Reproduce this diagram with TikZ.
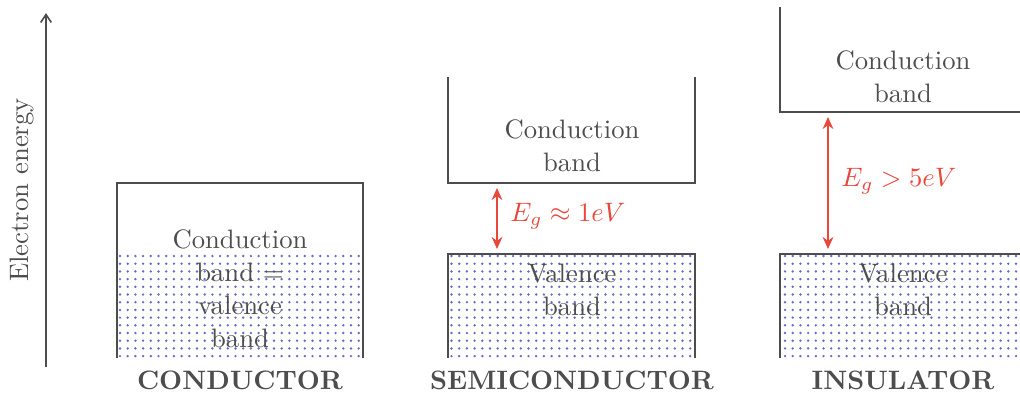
\documentclass[tikz,border=0pt]{standalone}
\usetikzlibrary{arrows.meta}
\definecolor{txt}{HTML}{4D4D4D}
\definecolor{gapred}{HTML}{E8473A}
\definecolor{dotblue}{HTML}{6A6AC8}
\newcommand{\dotgrid}[3]{%
  \foreach \xx in {#1,#2,...,#3}{%
    \foreach \yy in {256,263.7,...,357}{%
      \fill[dotblue] (\xx,\yy) circle[radius=1.35];}}}
\begin{document}
\begin{tikzpicture}[x=0.375pt,y=-0.375pt,
  band/.style={draw=txt,line width=0.8pt},
  lbl/.style={text=txt,align=center,font=\fontsize{10}{12.4}\selectfont},
  title/.style={text=txt,font=\bfseries},
  gap/.style={draw=gapred,line width=0.8pt,{Stealth[length=4.5pt,width=4pt]}-{Stealth[length=4.5pt,width=4pt]}},
  gaplbl/.style={text=gapred,anchor=west}]
\useasboundingbox (0,0) rectangle (1020,394);

% energy axis
\coordinate (ax0) at (46,367);
\coordinate (ax1) at (46,13);
\draw[txt,line width=0.6pt,-{Straight Barb[length=3pt,width=4pt]}] (ax0) -- (ax1);
\node[lbl,rotate=90] (axl) at (22,190) {Electron energy};

% conductor
\dotgrid{120}{127.7}{362}
\draw[band] (117,358) -- (117,183) -- (363,183) -- (363,358);
\node[lbl] (cond) at (240,289) {Conduction\\band $=$\\valence\\band};
\node[title] (t1) at (240,380) {CONDUCTOR};

% semiconductor
\draw[band] (448,77) -- (448,183) -- (695,183) -- (695,77);
\node[lbl] (scb) at (572,146) {Conduction\\band};
\dotgrid{451.5}{459.2}{693}
\draw[band] (448,358) -- (448,254) -- (695,254) -- (695,358);
\node[lbl] (svb) at (572,290) {Valence\\band};
\coordinate (sg1) at (497,188);
\coordinate (sg2) at (497,249);
\draw[gap] (sg1) -- (sg2);
\node[gaplbl] (sgl) at (501,216) {$E_g \approx 1eV$};
\node[title] (t2) at (572,380) {SEMICONDUCTOR};

% insulator
\draw[band] (780,7) -- (780,112) -- (1021,112);
\node[lbl] (icb) at (903,77) {Conduction\\band};
\dotgrid{785}{792.7}{1020}
\draw[band] (780,358) -- (780,254) -- (1021,254);
\node[lbl] (ivb) at (903,290) {Valence\\band};
\coordinate (ig1) at (828,117);
\coordinate (ig2) at (828,249);
\draw[gap] (ig1) -- (ig2);
\node[gaplbl] (igl) at (832,181) {$E_g > 5eV$};
\node[title] (t3) at (903,380) {INSULATOR};
\end{tikzpicture}
\end{document}
